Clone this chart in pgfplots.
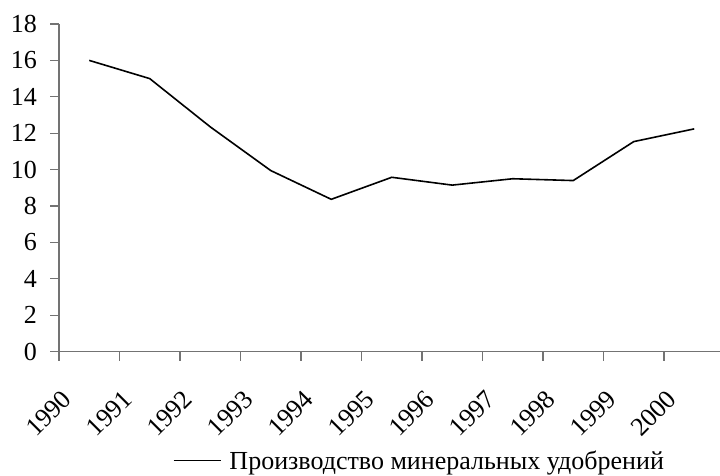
\documentclass[border=0pt]{standalone}
\usepackage{pgfplots}
\pgfplotsset{compat=1.18}
\usepackage{fontspec}
\setmainfont{Liberation Serif}
\definecolor{axgray}{RGB}{115,115,115}
\begin{document}
\begin{tikzpicture}
\path[use as bounding box] (0,0) rectangle (720bp,476bp);
\begin{axis}[
  at={(59bp,124.3bp)}, anchor=south west,
  scale only axis, width=661bp, height=327.7bp,
  xmin=-0.5, xmax=10.426, ymin=0, ymax=18,
  axis lines*=left,
  axis line style={axgray, line width=1.4bp},
  ytick={0,2,...,18},
  xtick={0,...,10},
  xticklabels={1990,1991,1992,1993,1994,1995,1996,1997,1998,1999,2000},
  minor xtick={-0.5,0.5,...,9.5},
  major x tick style={draw=none},
  minor x tick style={axgray, line width=1.2bp},
  y tick style={axgray, line width=1.2bp},
  major tick length=9bp, minor tick length=9bp,
  tick align=outside,
  tick label style={font=\fontsize{26bp}{30bp}\selectfont, inner sep=0pt},
  /pgf/number format/assume math mode=true,
  yticklabel style={xshift=-13bp, anchor=east},
  xticklabel style={xshift=-22bp, yshift=-34bp, rotate=45, anchor=east},
  legend style={draw=none, fill=none, at={(0.172,-0.3326)}, anchor=west,
    inner sep=0pt, column sep=8bp, font=\fontsize{26bp}{30bp}\selectfont,
    nodes={inner sep=0pt}},
  legend image code/.code={\draw[#1] (0bp,0bp) -- (47bp,0bp);},
  clip=false,
]
\addplot[black, line width=1.6bp] coordinates {
(0,16.0) (1,15.0) (2,12.35) (3,9.95) (4,8.37) (5,9.58) (6,9.15) (7,9.5) (8,9.4) (9,11.54) (10,12.24)
};
\addlegendentry{Производство минеральных удобрений}
\end{axis}
\end{tikzpicture}
\end{document}
